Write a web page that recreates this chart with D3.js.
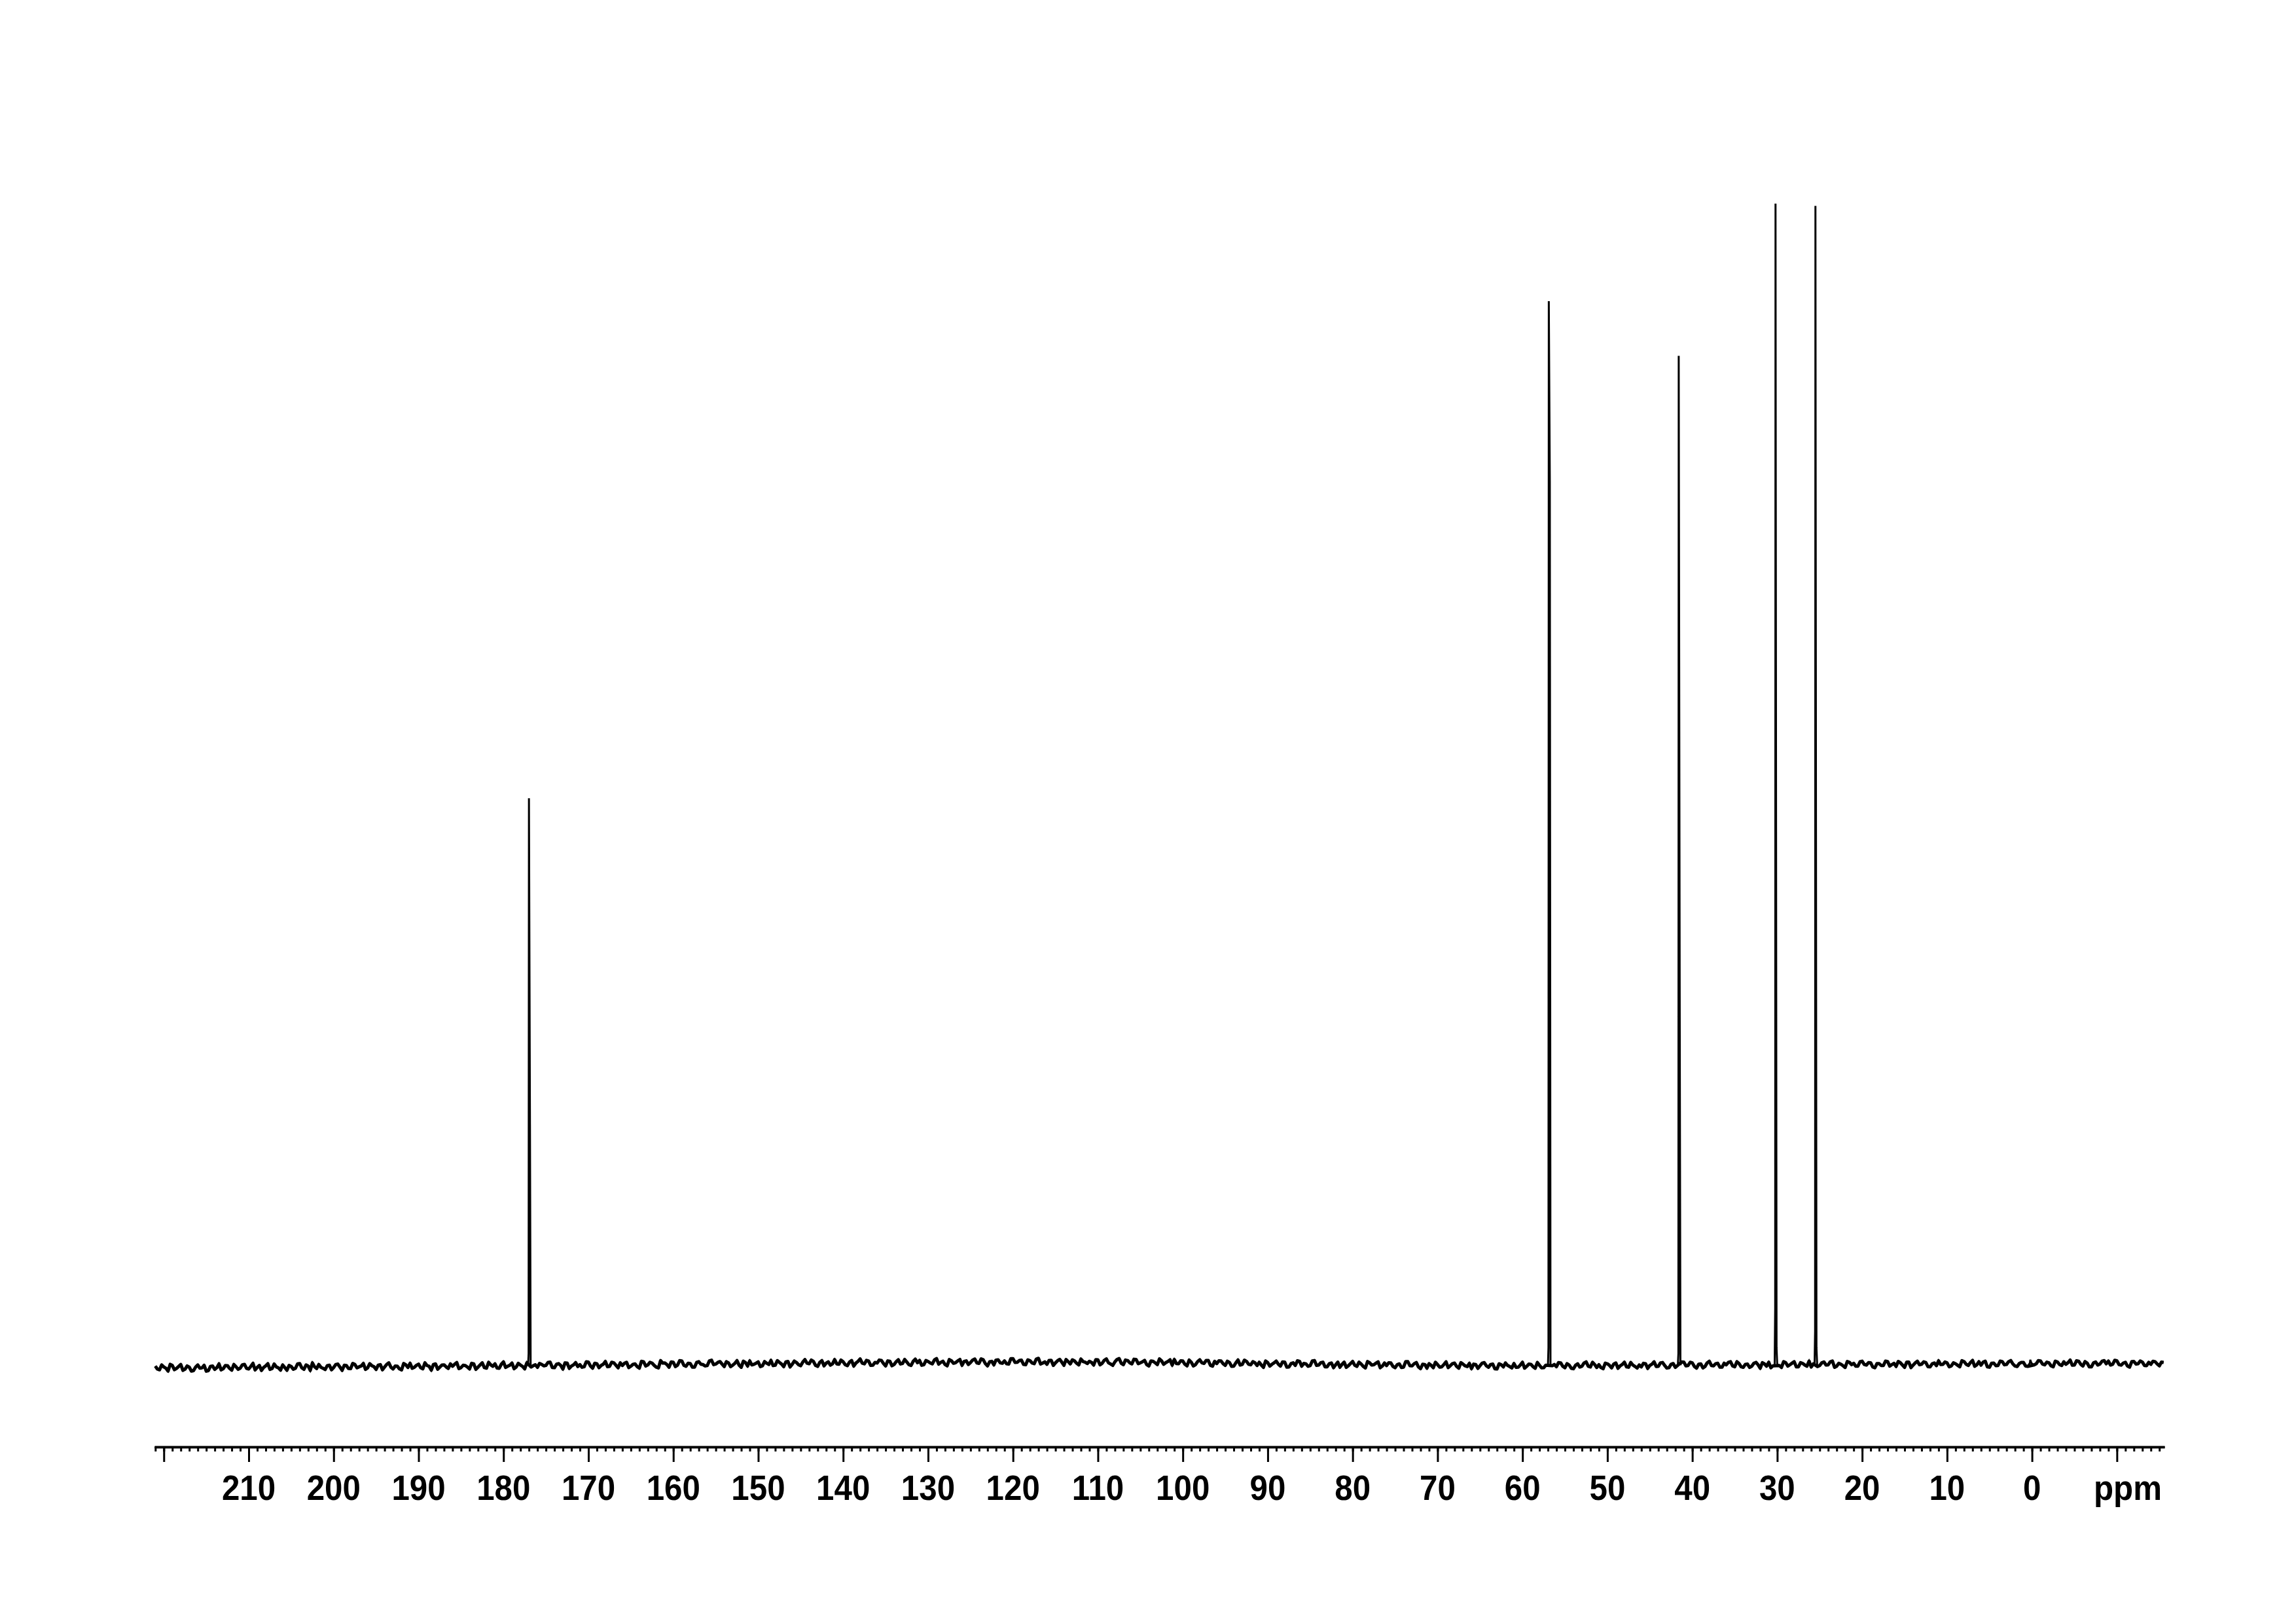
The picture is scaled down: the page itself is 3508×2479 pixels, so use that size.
<!DOCTYPE html>
<html>
<head>
<meta charset="utf-8">
<script src="https://cdn.jsdelivr.net/npm/d3@7"></script>
<style>
  html, body { margin: 0; padding: 0; background: #fff; }
  svg { display: block; }
</style>
</head>
<body>
<script>
// ---------------- DATA ----------------
// axis
const axisDomain = [221.1, -15.6];             // ppm at left / right end of the axis
const majorTicks = d3.range(220, -11, -10);     // 220 ... -10
const minorTicks = d3.range(221, -16, -1);      // every 1 ppm
const labelValues = [210, 200, 190, 180, 170, 160, 150, 140, 130, 120, 110, 100, 90, 80, 70, 60, 50, 40, 30, 20, 10, 0];
const unitLabel = "ppm";

// peaks (intensity units, tallest = 100)
const peakPpm        = [177.0, 56.9, 41.6, 30.2, 25.5, 0.2];
const peakHeight     = [48.8, 91.6, 86.9, 100.0, 99.8, 0.45];
const peakLeftFoot   = [1.0, 1.5, 1.0, 4.9, 2.9, 0.2];
const peakRightStep  = [20.7, 76.0, 30.0, 1.5, 1.5, 0.2];

// baseline: sampled every 0.5 ppm from 221 ppm (plus mid-points); level per 5-ppm block + noise (0.01 intensity units)
const gridStart = 221, gridStep = 0.5;
const baselineLevel = [-21,-20,-18,-16,-14,-12,-10,-7,-4,-2,1,4,8,11,14,17,20,22,24,26,27,27,26,24,20,15,11,7,4,1,-2,-4,-5,-4,-2,0,2,3,5,6,7,8,10,11,12,13,14,15];
const baselineNoise = [
12,-20,5,-31,18,-8,26,-15,3,-27,
21,-4,-33,9,-18,30,-11,15,-24,6,
-9,24,-16,33,-2,-28,11,-19,27,-6,
17,-29,4,-12,29,-21,8,35,-14,-3,
-25,13,-7,22,-32,10,-17,19,-1,28,
-13,7,-26,16,-5,31,-22,2,-30,14,
25,-10,18,-23,6,-34,20,-8,12,-19,
-4,29,-15,3,-27,17,-11,26,-20,9,
15,-24,32,-6,21,-13,4,-29,10,-2,
-18,8,-1,27,-21,14,-33,19,-7,23,
3,-16,24,-28,11,-5,30,-12,18,-25,
-8,20,-14,6,-31,25,-3,13,-22,34,
10,-27,16,-9,28,-19,5,-26,21,-4,
-15,31,-2,19,-24,8,-12,27,-30,11,
22,-7,13,-20,2,26,-16,9,-28,17,
-11,5,-23,30,-6,15,-29,21,-1,-18,
27,-13,8,-25,19,-3,33,-10,14,-21,
-5,18,-30,11,-17,24,-8,4,-26,29,
16,-22,7,-14,32,-1,-19,23,-9,12,
-28,10,-4,26,-12,20,-33,6,17,-7,
9,-19,28,-3,15,-24,11,-15,31,-10,
-21,14,-8,22,-29,3,18,-12,25,-2,
6,-26,19,-11,27,-17,1,30,-23,13,
-14,24,-5,16,-32,9,-20,12,-3,21,
28,-9,15,-27,4,-16,25,-6,19,-30,
-2,20,-18,7,-25,29,-10,17,-13,5,
13,-31,10,-4,23,-20,14,-28,8,26,
-17,3,-12,32,-7,18,-22,11,-5,-26,
21,-10,27,-16,5,-29,16,-1,24,-13,
-6,17,-24,9,-19,28,-8,21,-32,4,
14,-21,6,-13,30,-4,19,-25,10,-11,
-27,8,-2,25,-15,12,-30,7,22,-9,
18,-14,29,-6,11,-23,3,-18,26,-1,
-10,23,-19,4,-28,15,-7,31,-12,9,
5,-30,13,-22,20,-5,27,-17,2,-24,
-16,11,-3,28,-11,22,-26,6,-20,16,
24,-6,17,-29,8,-14,31,-9,13,-21,
-1,26,-18,10,-23,5,-13,20,-31,7,
19,-12,3,-26,16,-2,24,-20,9,-15,
-23,15,-10,21,-4,29,-16,1,-27,18,
8,-17,26,-7,13,-31,5,-11,23,-3,
-20,12,-28,17,-9,25,-1,14,-24,10,
27,-5,9,-18,1,-25,20,-14,30,-8,
-12,22,-30,6,-15,19,-6,28,-19,2,
11,-23,16,-1,24,-10,7,-27,15,-16,
-7,30,-13,20,-21,4,-29,13,-4,25,
20,-8,23,-15,10,-32,17,-3,12,-19,
-9,14,-22,8
];
// noise at the mid-points (gridStart - i*gridStep - gridStep/2)
const baselineNoiseMid = [
-14,22,-6,27,-19,9,-25,13,-31,4,
-7,18,-28,11,-2,-22,16,-9,25,-17,
20,-11,7,-24,15,-3,30,-13,2,-26,
-5,13,-20,26,-8,17,-30,1,21,-12,
9,-27,19,-4,12,-16,28,-10,6,-23,
24,-2,11,-29,18,-7,3,-21,26,-9,
-18,8,-13,29,-1,15,-26,10,-6,20,
14,-24,5,-10,22,-30,8,-15,31,-4,
-22,11,-17,3,-28,19,-8,24,-13,7,
16,-5,25,-19,9,-2,21,-27,4,-11,
-20,27,-9,14,-24,6,-15,23,-3,18,
11,-26,2,-18,28,-12,20,-7,-29,13,
-4,19,-21,30,-11,8,-27,15,-1,-16,
25,-8,12,-3,18,-25,4,-12,22,-20,
-13,2,-27,16,-9,-19,24,-5,13,-30,
17,-14,9,-1,26,-20,6,-24,11,-6,
-10,23,-17,5,-29,12,-4,20,-23,3,
21,-9,14,-28,7,-13,26,-19,10,-2,
-26,15,-6,20,-16,9,-31,13,-3,24,
6,-21,17,-8,27,-14,2,-25,19,-11,
-16,28,-5,12,-22,18,-9,25,-18,1,
13,-30,10,-2,21,-17,8,-26,4,-14,
-3,20,-24,15,-7,-29,22,-11,17,-6,
26,-12,4,-20,11,-5,29,-18,7,-25,
-8,16,-13,23,-28,10,-1,19,-22,12,
22,-4,18,-26,5,-15,27,-8,14,-19,
-11,24,-20,8,-3,16,-29,2,-14,21,
7,-18,28,-10,13,-23,5,-30,18,-1,
-24,9,-6,21,-15,26,-4,12,-27,14,
19,-13,3,-22,29,-7,11,-17,6,-28,
-1,26,-16,7,-20,14,-10,23,-5,17,
12,-25,20,-3,9,-28,15,-12,1,-21,
-15,6,-22,13,-9,27,-19,4,-26,10,
25,-7,16,-24,2,-13,21,-6,28,-17,
-20,18,-1,11,-26,7,-14,24,-10,3,
15,-29,8,-12,19,-4,-23,13,-2,27,
-9,22,-15,5,-27,17,-6,10,-20,14,
20,-11,26,-18,3,-24,12,-1,18,-13,
-28,7,-9,24,-14,11,-21,16,-5,29,
4,-19,13,-6,22,-26,9,-12,25,-3,
-17,21,-2,14,-24,6,-11,27,-16,8,
23,-8,17,-30,10,-5,20,-22,3,-13,
-6,16,-25,9,-12,28,-3,11,-21,19,
14,-27,5,-16,23,-9,18,-1,-24,12,
-21,10,-11,26,-4,13,-19,22,-8,16,
8,-15,24,-7,17,-28,6,-13,20,-2,
-14,27,-10,3,-23,15,-5,21,-18,9,
18,-6,11
];

// ---------------- DRAW ----------------
const W = 3508, H = 2479;
const svg = d3.select("body").append("svg").attr("width", W).attr("height", H);
svg.append("rect").attr("width", W).attr("height", H).attr("fill", "#fff");

const x = d3.scaleLinear().domain(axisDomain).range([236, 3307]);
const y = d3.scaleLinear().domain([0, 100]).range([2085, 311]);

// build spectrum points
const levelAt = ppm => baselineLevel[Math.min(baselineLevel.length - 1, Math.max(0, Math.floor((gridStart - ppm) / gridStep / 10)))] / 100;
const nearPeak = ppm => peakPpm.some(p => Math.abs(p - ppm) < 0.22);
const basePts = [];
baselineNoise.forEach((n, i) => {
  const ppm = gridStart - i * gridStep;
  if (nearPeak(ppm)) return;
  basePts.push([ppm, (baselineLevel[Math.floor(i / 10)] + n) / 100]);
});
baselineNoiseMid.forEach((n, i) => {
  const ppm = gridStart - i * gridStep - gridStep / 2;
  if (nearPeak(ppm)) return;
  basePts.push([ppm, (baselineLevel[Math.floor(i / 10)] + n) / 100]);
});
basePts.sort((a, b) => b[0] - a[0]);

const pts = basePts.slice();
peakPpm.forEach((p, j) => {
  const lv = levelAt(p);
  pts.push([p + 0.10, lv]);
  pts.push([p + 0.04, peakLeftFoot[j]]);
  pts.push([p, peakHeight[j]]);
  pts.push([p - 0.12, peakRightStep[j]]);
  pts.push([p - 0.20, lv]);
});
pts.sort((a, b) => b[0] - a[0]);

const line = d3.line().x(d => x(d[0])).y(d => y(d[1]));

// dense noise band of the baseline
svg.append("path")
  .datum(basePts)
  .attr("fill", "none")
  .attr("stroke", "#000")
  .attr("stroke-width", 5)
  .attr("stroke-linejoin", "round")
  .attr("d", line);

// full trace
svg.append("path")
  .datum(pts)
  .attr("fill", "none")
  .attr("stroke", "#000")
  .attr("stroke-width", 3)
  .attr("stroke-linejoin", "miter")
  .attr("d", line);

// axis
const axisY = 2210;
const gMinor = svg.append("g").attr("transform", `translate(0,${axisY})`)
  .call(d3.axisBottom(x).tickValues(minorTicks).tickSize(7).tickSizeOuter(0).tickFormat(""));
const gMajor = svg.append("g").attr("transform", `translate(0,${axisY})`)
  .call(d3.axisBottom(x).tickValues(majorTicks).tickSize(23).tickSizeOuter(0).tickFormat(""));
[gMinor, gMajor].forEach(g => {
  g.selectAll("line").attr("stroke", "#000").attr("stroke-width", 3);
  g.select(".domain").attr("stroke", "#000").attr("stroke-width", 3.5);
});

const fontStyle = g => g.attr("font-family", "'Liberation Sans', Arial, Helvetica, sans-serif")
  .attr("font-weight", "bold").attr("font-size", 53).attr("fill", "#000");

const labels = svg.append("g").call(fontStyle);
labels.selectAll("text").data(labelValues).enter().append("text")
  .attr("text-anchor", "middle")
  .attr("transform", d => `translate(${x(d)},2291) scale(0.93,1)`)
  .text(d => String(d));
labels.append("text")
  .attr("text-anchor", "end")
  .attr("transform", `translate(${x(axisDomain[1]) - 4},2291) scale(0.93,1)`)
  .text(unitLabel);
</script>
</body>
</html>
